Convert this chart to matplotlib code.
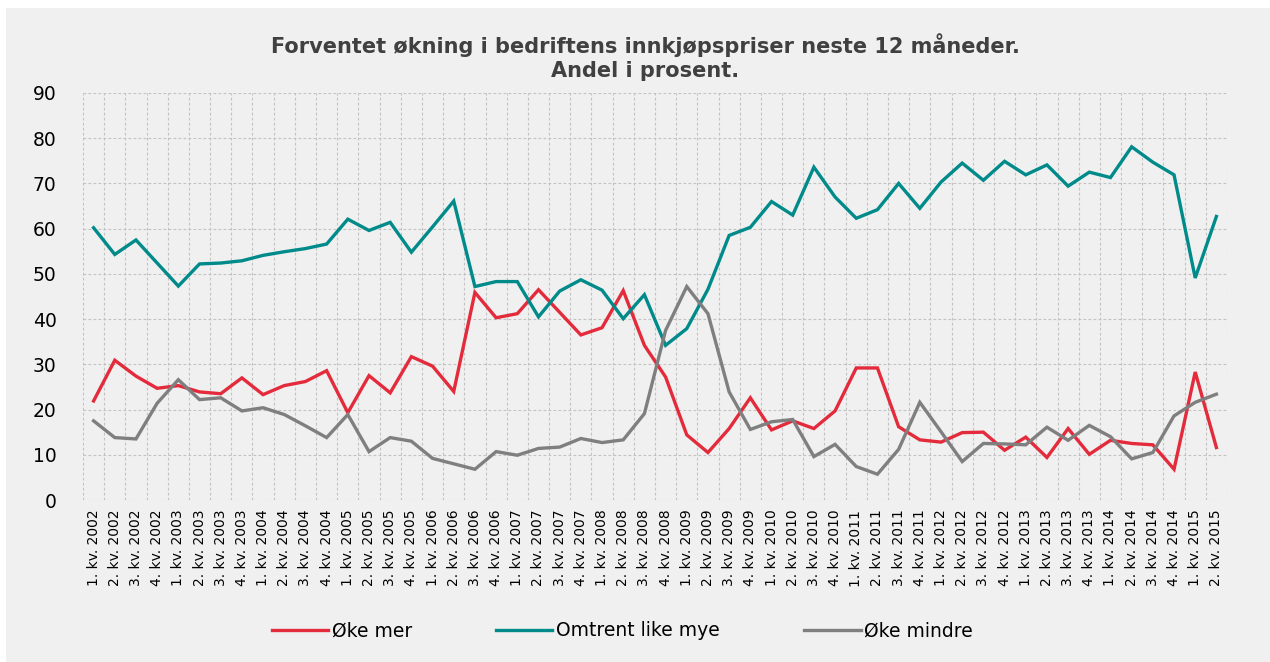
import matplotlib
matplotlib.use('Agg')
import matplotlib.pyplot as plt
from matplotlib.patches import Rectangle

# quarters 1. kv. 2002 .. 2. kv. 2015
quarters = []
for year in range(2002, 2016):
    for q in range(1, 5):
        if year == 2015 and q > 2:
            break
        quarters.append('%d. kv. %d' % (q, year))

oke_mer = [21.9, 30.9, 27.4, 24.7, 25.3, 23.9, 23.5, 27.0, 23.3, 25.3,
           26.2, 28.6, 19.3, 27.5, 23.7, 31.7, 29.6, 24.0, 45.9, 40.3,
           41.2, 46.5, 41.5, 36.5, 38.1, 46.3, 34.2, 27.2, 14.4, 10.5,
           15.8, 22.6, 15.5, 17.5, 15.8, 19.7, 29.2, 29.2, 16.2, 13.3,
           12.8, 14.9, 15.0, 11.0, 13.9, 9.4, 15.8, 10.1, 13.2, 12.5,
           12.2, 6.8, 28.3, 11.6]

omtrent_like = [60.2, 54.3, 57.5, 52.4, 47.3, 52.2, 52.4, 52.9, 54.1, 54.9,
                55.6, 56.6, 62.1, 59.6, 61.4, 54.8, 60.4, 66.1, 47.2, 48.3,
                48.3, 40.5, 46.2, 48.7, 46.4, 40.1, 45.4, 34.2, 37.9, 46.6,
                58.5, 60.3, 66.0, 63.0, 73.6, 67.0, 62.3, 64.2, 70.0, 64.5,
                70.3, 74.5, 70.7, 74.9, 71.9, 74.1, 69.4, 72.5, 71.3, 78.1,
                74.7, 71.9, 49.1, 62.7]

oke_mindre = [17.5, 13.8, 13.5, 21.4, 26.6, 22.2, 22.6, 19.7, 20.4, 18.9,
              16.4, 13.8, 18.9, 10.7, 13.8, 13.0, 9.2, 8.0, 6.8, 10.7,
              9.9, 11.4, 11.7, 13.6, 12.7, 13.3, 19.1, 37.5, 47.2, 41.2,
              23.9, 15.6, 17.3, 17.8, 9.6, 12.3, 7.4, 5.7, 11.2, 21.6,
              15.1, 8.5, 12.5, 12.4, 12.2, 16.1, 13.2, 16.5, 14.0, 9.1,
              10.5, 18.6, 21.6, 23.4]

series_names = ['Øke mer', 'Omtrent like mye', 'Øke mindre']
colors = ['#E32B3C', '#008A8A', '#7F7F80']

bg = '#F0F0F0'

fig = plt.figure(figsize=(12.7, 6.62), dpi=100, facecolor='white')
# grey panel (the reference has a thin white strip top and left)
fig.patches.append(Rectangle((6 / 1270, 0), 1 - 6 / 1270, 1 - 8 / 662,
                             transform=fig.transFigure, facecolor=bg,
                             edgecolor='none', zorder=-5))

ax = fig.add_axes([83 / 1270, 1 - 500 / 662, 1144 / 1270, 407 / 662])
ax.set_facecolor(bg)

x = list(range(len(quarters)))
for vals, name, c in zip([oke_mer, omtrent_like, oke_mindre], series_names, colors):
    ax.plot(x, vals, color=c, lw=2.4, label=name, solid_joinstyle='miter', zorder=3)

ax.set_xlim(-0.5, len(quarters) - 0.5)
ax.set_ylim(0, 90)
ax.set_yticks(range(0, 91, 10))
ax.set_xticks(x)
ax.set_xticklabels(quarters, rotation=90, fontsize=10)
ax.tick_params(axis='x', length=0, pad=7)
ax.tick_params(axis='y', length=0, pad=19, labelsize=13.5)

# grid: horizontal every 10, vertical at category boundaries
grid_kw = dict(color='#C2C2C2', lw=0.8, ls=(0, (2.5, 2)), zorder=1)
for v in range(0, 91, 10):
    ax.axhline(v, **grid_kw)
for b in range(len(quarters) + 1):
    ax.axvline(b - 0.5, **grid_kw)
for s in ax.spines.values():
    s.set_visible(False)

fig.text(0.508, 1 - 57 / 662, 'Forventet økning i bedriftens innkjøpspriser neste 12 måneder.\nAndel i prosent.',
         ha='center', va='center', fontsize=15, fontweight='bold', color='#404040',
         linespacing=1.2)

fig.legend(loc='center', bbox_to_anchor=(0.49, 1 - 631 / 662), ncol=3, frameon=False,
           fontsize=13.5, handlelength=3.0, handletextpad=0.2, columnspacing=4.5)

fig.savefig('out.png', dpi=100, facecolor=fig.get_facecolor())
